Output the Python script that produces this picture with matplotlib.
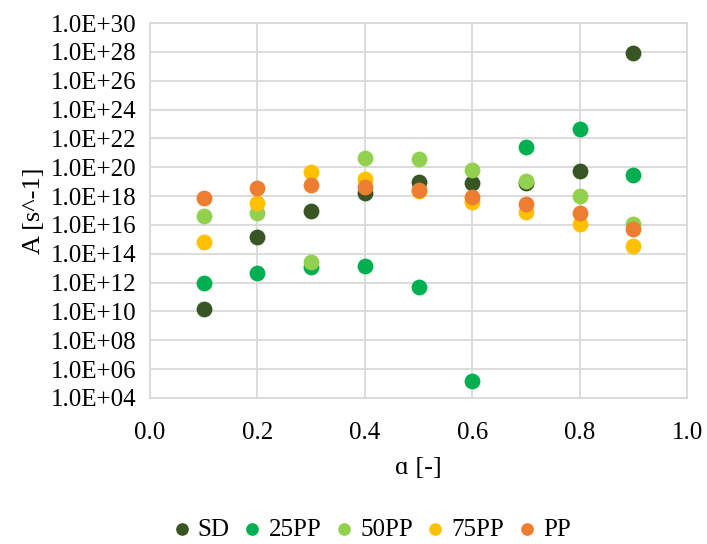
import math
import matplotlib
matplotlib.use("Agg")
import matplotlib.pyplot as plt
from matplotlib.ticker import FixedLocator, FuncFormatter, NullLocator

plt.rcParams['font.family'] = ['Liberation Serif', 'DejaVu Serif']

alpha = [0.1, 0.2, 0.3, 0.4, 0.5, 0.6, 0.7, 0.8, 0.9]
series_names = ["SD", "25PP", "50PP", "75PP", "PP"]
SD = [1.5e10, 1.5e15, 8.7e16, 1.6e18, 1.0e19, 7.6e18, 7.9e18, 5.8e19, 8.0e27]
PP25 = [8.7e11, 4.8e12, 1.2e13, 1.5e13, 4.7e11, 1.5e5, 2.4e21, 4.7e22, 3.0e19]
PP50 = [4.4e16, 6.6e16, 2.8e13, 4.4e20, 3.9e20, 6.8e19, 1.1e19, 1.0e18, 1.2e16]
PP75 = [6.3e14, 3.1e17, 4.4e19, 1.5e19, 2.3e18, 4.0e17, 8.3e16, 1.1e16, 3.2e14]
PP = [7.2e17, 3.5e18, 6.2e18, 4.5e18, 2.5e18, 8.9e17, 2.7e17, 6.3e16, 5.2e15]
colors = ["#375623", "#00B050", "#92D050", "#FFC000", "#ED7D31"]

fig = plt.figure(figsize=(7.07, 5.44), dpi=100)
ax = fig.add_axes([150/707, 1-398/544, 537/707, 375/544])

for name, vals, c in zip(series_names, [SD, PP25, PP50, PP75, PP], colors):
    ax.scatter(alpha, vals, s=130, color=c, label=name, zorder=3, linewidths=0)

ax.set_yscale('log')
ax.set_ylim(1e4, 1e30)
ax.set_xlim(0, 1.0)
ax.yaxis.set_major_locator(FixedLocator([10.0**k for k in range(4, 31, 2)]))
ax.yaxis.set_minor_locator(NullLocator())
ax.yaxis.set_major_formatter(FuncFormatter(lambda v, p: "1.0E+%02d" % round(math.log10(v))))
ax.set_xticks([0.0, 0.2, 0.4, 0.6, 0.8, 1.0])
ax.xaxis.set_major_formatter(FuncFormatter(lambda v, p: "%.1f" % v))

ax.grid(True, color="#D9D9D9", linewidth=1.3, zorder=0)
ax.set_axisbelow(True)
for s in ax.spines.values():
    s.set_color("#D9D9D9")
    s.set_linewidth(1.3)
ax.tick_params(length=0, labelsize=18, colors="#000000")
ax.tick_params(axis='x', pad=17)
ax.tick_params(axis='y', pad=10)

ax.set_xlabel("ɑ [-]", fontsize=19, labelpad=10)
ax.set_ylabel("A [s^-1]", fontsize=19, labelpad=4)

fig.legend(loc="lower center", ncol=5, frameon=False, fontsize=18,
           bbox_to_anchor=(0.525, -0.035), handlelength=0.8, handletextpad=0.25,
           columnspacing=0.5, markerscale=0.8)

fig.savefig("out.png", dpi=100)
